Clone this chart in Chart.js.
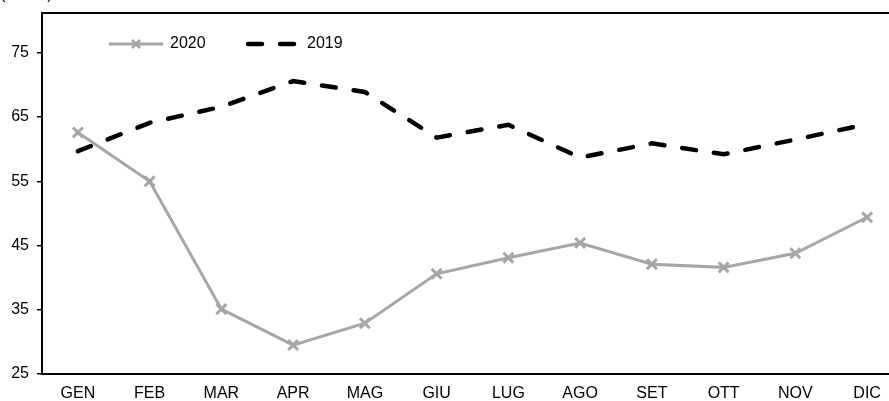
<!DOCTYPE html>
<html>
<head>
<meta charset="utf-8">
<script src="https://cdn.jsdelivr.net/npm/chart.js@4"></script>
<style>
  html, body {
    margin: 0;
    padding: 0;
    background: #fff;
    overflow: hidden;
  }
  .chart-wrap {
    width: 913px;
    height: 401px;
  }
</style>
</head>
<body>
<div class="chart-wrap">
  <canvas id="lineChart" width="913" height="401"></canvas>
</div>
<script>
  const months = ['GEN', 'FEB', 'MAR', 'APR', 'MAG', 'GIU', 'LUG', 'AGO', 'SET', 'OTT', 'NOV', 'DIC'];
  const values2020 = [62.6, 55.0, 35.1, 29.5, 32.9, 40.6, 43.1, 45.4, 42.1, 41.6, 43.8, 49.4];
  const values2019 = [59.7, 64.1, 66.6, 70.6, 68.9, 61.8, 63.8, 58.7, 60.9, 59.2, 61.5, 63.9];
  const yTicks = [25, 35, 45, 55, 65, 75];
  const yTitle = '(indice)';

  const FONT = 'Liberation Sans, Arial, sans-serif';
  const GREY = '#a6a6a6';

  // frame round the plot, legend inside it and the cut-off unit label
  const extras = {
    id: 'extras',
    afterDraw(chart) {
      const ctx = chart.ctx;
      const a = chart.chartArea;
      ctx.save();
      ctx.strokeStyle = '#000';
      ctx.lineWidth = 2;
      ctx.strokeRect(a.left, a.top, a.right - a.left, a.bottom - a.top);

      ctx.font = '16px ' + FONT;
      ctx.fillStyle = '#000';
      ctx.textBaseline = 'alphabetic';
      ctx.fillText(yTitle, 0, -1);

      // legend: 2020
      const ly = 44;
      ctx.strokeStyle = GREY;
      ctx.lineWidth = 3;
      ctx.beginPath();
      ctx.moveTo(109, ly);
      ctx.lineTo(163, ly);
      ctx.stroke();
      ctx.lineWidth = 2.5;
      ctx.beginPath();
      ctx.moveTo(132, ly - 4); ctx.lineTo(140, ly + 4);
      ctx.moveTo(140, ly - 4); ctx.lineTo(132, ly + 4);
      ctx.stroke();
      ctx.textBaseline = 'middle';
      ctx.fillText('2020', 170, ly);

      // legend: 2019
      ctx.strokeStyle = '#000';
      ctx.lineWidth = 4.5;
      ctx.lineCap = 'round';
      ctx.setLineDash([14, 18]);
      ctx.beginPath();
      ctx.moveTo(248, ly);
      ctx.lineTo(296, ly);
      ctx.stroke();
      ctx.setLineDash([]);
      ctx.fillText('2019', 307, ly);
      ctx.restore();
    }
  };

  new Chart(document.getElementById('lineChart'), {
    type: 'line',
    data: {
      labels: months,
      datasets: [{
        label: '2020',
        data: values2020,
        borderColor: GREY,
        backgroundColor: GREY,
        borderWidth: 3,
        pointStyle: 'crossRot',
        pointRadius: 7,
        pointBorderWidth: 3,
        pointBorderColor: GREY,
        tension: 0
      }, {
        label: '2019',
        data: values2019,
        borderColor: '#000',
        borderWidth: 4.5,
        borderDash: [14, 18],
        borderCapStyle: 'round',
        pointRadius: 0,
        tension: 0
      }]
    },
    options: {
      responsive: false,
      animation: false,
      devicePixelRatio: 1,
      layout: { padding: { top: 13, right: 2, left: 0, bottom: 0 } },
      plugins: {
        legend: { display: false },
        tooltip: { enabled: false }
      },
      scales: {
        x: {
          offset: true,
          grid: { display: false, drawTicks: false },
          border: { display: false },
          ticks: {
            color: '#000',
            font: { family: FONT, size: 16 },
            padding: 10,
            maxRotation: 0,
            autoSkip: false
          },
          afterFit(scale) {
            scale.height = 27;
            scale.paddingLeft = 0;
            scale.paddingRight = 0;
          }
        },
        y: {
          min: 25,
          max: 81.2,
          grid: { drawOnChartArea: false, tickLength: 5, color: '#000', lineWidth: 1.5 },
          border: { display: false },
          ticks: {
            color: '#000',
            font: { family: FONT, size: 16 },
            padding: 8
          },
          afterBuildTicks(scale) {
            scale.ticks = yTicks.map(v => ({ value: v }));
          },
          afterFit(scale) {
            scale.width = 42;
            scale.paddingTop = 0;
            scale.paddingBottom = 0;
          }
        }
      }
    },
    plugins: [extras]
  });
</script>
</body>
</html>
